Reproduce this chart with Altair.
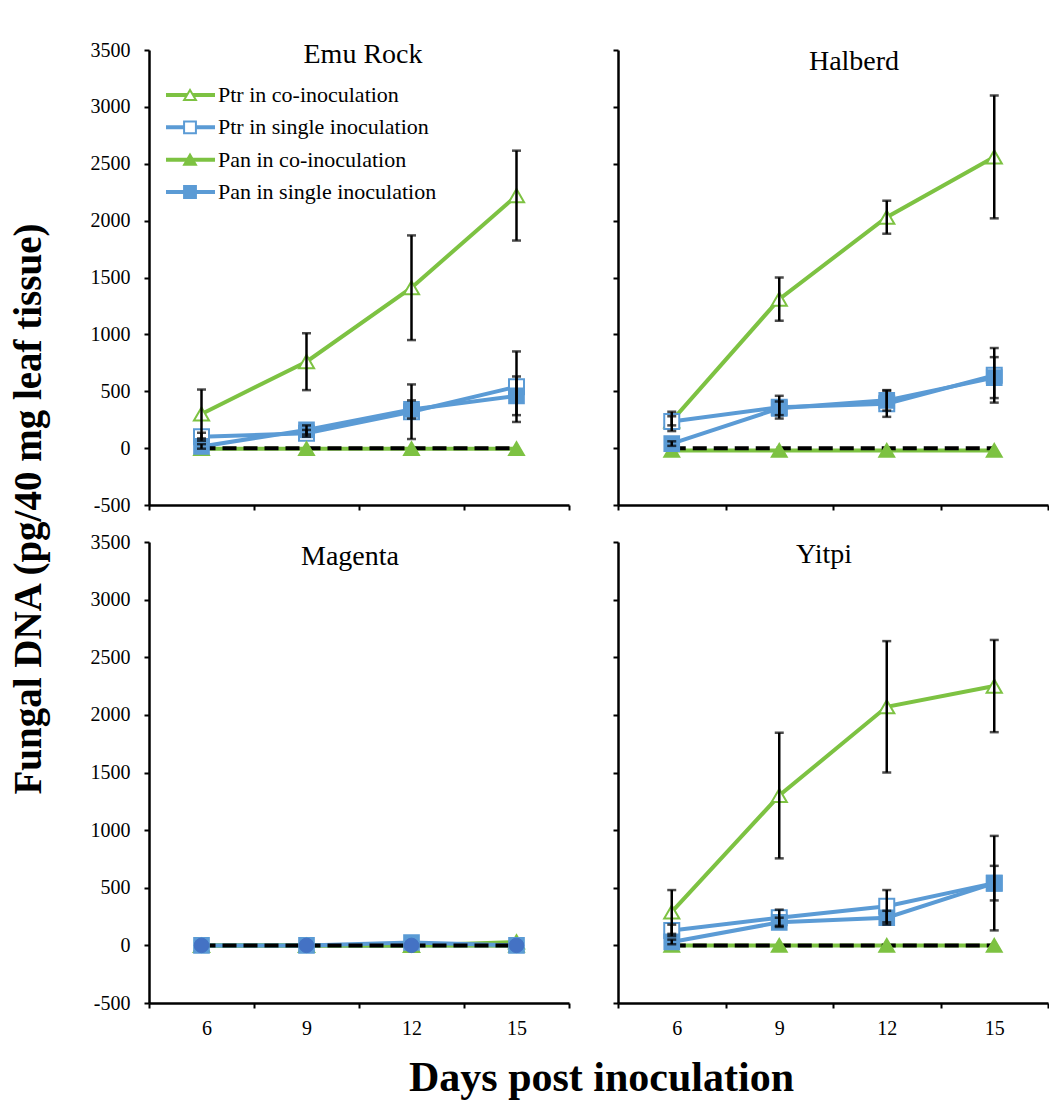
import altair as alt
import pandas as pd

# ---- data: fungal DNA (pg / 40 mg leaf tissue), mean and error per time point ----
days = [6, 9, 12, 15]
panels = ["Emu Rock", "Halberd", "Magenta", "Yitpi"]
series = [
    "Ptr in co-inoculation",
    "Ptr in single inoculation",
    "Pan in co-inoculation",
    "Pan in single inoculation",
]

emu_ptr_co = [300, 760, 1410, 2220]
emu_ptr_co_err = [215, 250, 460, 395]
emu_ptr_single = [100, 130, 320, 540]
emu_ptr_single_err = [35, 30, 240, 310]
emu_pan_co = [-5, -5, -5, -5]
emu_pan_co_err = [0, 0, 0, 0]
emu_pan_single = [15, 160, 340, 460]
emu_pan_single_err = [20, 40, 80, 170]

hal_ptr_co = [240, 1310, 2030, 2560]
hal_ptr_co_err = [40, 190, 145, 540]
hal_ptr_single = [235, 360, 390, 640]
hal_ptr_single_err = [85, 100, 115, 240]
hal_pan_co = [-20, -20, -20, -20]
hal_pan_co_err = [0, 0, 0, 0]
hal_pan_single = [40, 350, 420, 620]
hal_pan_single_err = [20, 60, 90, 180]

mag_ptr_co = [0, 0, 0, 30]
mag_ptr_co_err = [0, 0, 0, 0]
mag_ptr_single = [0, 0, 0, 0]
mag_ptr_single_err = [0, 0, 0, 0]
mag_pan_co = [0, 0, 0, 0]
mag_pan_co_err = [0, 0, 0, 0]
mag_pan_single = [0, 0, 25, 0]
mag_pan_single_err = [0, 0, 0, 0]

yit_ptr_co = [290, 1300, 2070, 2250]
yit_ptr_co_err = [190, 545, 570, 400]
yit_ptr_single = [130, 240, 340, 540]
yit_ptr_single_err = [50, 70, 140, 410]
yit_pan_co = [0, 0, 0, 0]
yit_pan_co_err = [0, 0, 0, 0]
yit_pan_single = [30, 200, 240, 540]
yit_pan_single_err = [20, 40, 60, 150]

# un-inoculated control (zero line)
control = [0, 0, 0, 0]

y_ticks = [-500, 0, 500, 1000, 1500, 2000, 2500, 3000, 3500]

table = {
    "Emu Rock": [(emu_ptr_co, emu_ptr_co_err), (emu_ptr_single, emu_ptr_single_err),
                 (emu_pan_co, emu_pan_co_err), (emu_pan_single, emu_pan_single_err)],
    "Halberd": [(hal_ptr_co, hal_ptr_co_err), (hal_ptr_single, hal_ptr_single_err),
                (hal_pan_co, hal_pan_co_err), (hal_pan_single, hal_pan_single_err)],
    "Magenta": [(mag_ptr_co, mag_ptr_co_err), (mag_ptr_single, mag_ptr_single_err),
                (mag_pan_co, mag_pan_co_err), (mag_pan_single, mag_pan_single_err)],
    "Yitpi": [(yit_ptr_co, yit_ptr_co_err), (yit_ptr_single, yit_ptr_single_err),
              (yit_pan_co, yit_pan_co_err), (yit_pan_single, yit_pan_single_err)],
}

rows = []
for p in panels:
    for s, (vals, errs) in zip(series, table[p]):
        for d, v, e in zip(days, vals, errs):
            # Magenta's Ptr single-inoculation series is plotted with round markers
            mk = "circle" if (p == "Magenta" and s == series[1]) else s
            rows.append({"panel": p, "series": s, "mk": mk, "day": d, "value": v, "err": e})
df = pd.DataFrame(rows)

ctrl = pd.DataFrame([{"panel": p, "day": d, "value": v} for p in panels for d, v in zip(days, control)])

GREEN = "#7DC242"
BLUE = "#5B9BD5"
DARKBLUE = "#4472C4"
FONT = "Liberation Serif"

line_color = alt.Scale(domain=series, range=[GREEN, BLUE, GREEN, BLUE])
mk_domain = series + ["circle"]
mk_shape = alt.Scale(domain=mk_domain, range=["triangle-up", "square", "triangle-up", "square", "circle"])
mk_fill = alt.Scale(domain=mk_domain, range=["white", "white", GREEN, BLUE, DARKBLUE])
mk_stroke = alt.Scale(domain=mk_domain, range=[GREEN, BLUE, GREEN, BLUE, DARKBLUE])
mk_size = alt.Scale(domain=mk_domain, range=[230, 210, 250, 260, 110])


def panel(name, width, height, y_labels, x_labels, title_dx, title_dy, legend=False):
    data = df[df.panel == name]
    x_axis = alt.Axis(
        values=[4.5, 7.5, 10.5, 13.5, 16.5],
        labels=x_labels,
        labelExpr="datum.value < 16 ? format(datum.value + 1.5, 'd') : ''",
        labelOffset=width / 8,
        labelFontSize=20,
        labelPadding=10,
        title=None,
    )
    y_axis = alt.Axis(values=y_ticks, labels=y_labels, labelExpr="'' + datum.value",
                      labelFontSize=20, labelPadding=14, title=None)
    x = alt.X("day:Q", scale=alt.Scale(domain=[4.5, 16.5], nice=False, zero=False), axis=x_axis)
    y = alt.Y("value:Q", scale=alt.Scale(domain=[-500, 3500], nice=False), axis=y_axis)

    base = alt.Chart(data)
    marker_enc = dict(
        x=x, y=y,
        shape=alt.Shape("mk:N", scale=mk_shape, legend=None),
        fill=alt.Fill("mk:N", scale=mk_fill, legend=None),
        stroke=alt.Stroke("mk:N", scale=mk_stroke, legend=None),
        size=alt.Size("mk:N", scale=mk_size, legend=None),
    )
    lines = base.mark_line(strokeWidth=4).encode(
        x=x, y=y,
        color=alt.Color("series:N", scale=line_color, legend=None),
        order="day:Q",
    )
    zero = alt.Chart(ctrl[ctrl.panel == name]).mark_line(
        strokeWidth=4, color="black", strokeDash=[14, 7]
    ).encode(x=x, y=y)
    points = base.transform_filter("datum.mk != 'circle'").mark_point(
        opacity=1, strokeWidth=2
    ).encode(**marker_enc)
    dots = base.transform_filter("datum.mk == 'circle'").mark_point(
        opacity=1, strokeWidth=1
    ).encode(**marker_enc)
    errs = base.transform_filter("datum.err > 0").transform_calculate(
        lo="datum.value - datum.err", hi="datum.value + datum.err"
    )
    err_rule = errs.mark_rule(color="black", strokeWidth=2.5).encode(x=x, y="lo:Q", y2="hi:Q")
    err_lo = errs.mark_tick(orient="horizontal", size=9, thickness=2.5, color="black").encode(x=x, y="lo:Q")
    err_hi = errs.mark_tick(orient="horizontal", size=9, thickness=2.5, color="black").encode(x=x, y="hi:Q")

    title = alt.Chart(pd.DataFrame({"name": [name]})).mark_text(
        font=FONT, fontSize=28, color="black", baseline="middle", align="center"
    ).encode(text="name:N", x=alt.value(width / 2 + title_dx), y=alt.value(title_dy))

    main = alt.layer(lines, zero, points, dots, err_rule, err_lo, err_hi, title)

    if legend:
        leg = alt.Chart(pd.DataFrame({"series": series, "mk": series}))
        ly = alt.Y("series:N", scale=alt.Scale(type="point", domain=series, range=[45, 142], padding=0),
                   axis=None)
        leg_line = leg.mark_rule(strokeWidth=4).encode(
            x=alt.value(17), x2=alt.value(66), y=ly,
            color=alt.Color("series:N", scale=line_color, legend=None),
        )
        leg_pt = leg.mark_point(opacity=1, strokeWidth=2).encode(
            x=alt.value(41), y=ly,
            shape=alt.Shape("mk:N", scale=mk_shape, legend=None),
            fill=alt.Fill("mk:N", scale=mk_fill, legend=None),
            stroke=alt.Stroke("mk:N", scale=mk_stroke, legend=None),
            size=alt.value(140),
        )
        leg_txt = leg.mark_text(font=FONT, fontSize=22, align="left", baseline="middle", color="black").encode(
            x=alt.value(69), y=ly, text="series:N"
        )
        main = alt.layer(main, alt.layer(leg_line, leg_pt, leg_txt)).resolve_scale(y="independent")

    return main.properties(width=width, height=height)


emu = panel("Emu Rock", 420, 455, True, False, 4, 5, legend=True)
hal = panel("Halberd", 430, 455, False, False, 21, 12)
mag = panel("Magenta", 420, 461, True, True, -9, 15)
yit = panel("Yitpi", 430, 461, False, True, -9, 13)

grid = alt.concat(
    emu, hal, mag, yit,
    columns=2,
    spacing={"row": 37, "column": 49},
    bounds="flush",
    align="each",
).properties(
    title=alt.TitleParams(
        "Fungal DNA (pg/40 mg leaf tissue)", orient="left", anchor="middle",
        font=FONT, fontSize=39, fontWeight="bold", color="black", offset=41, dx=30,
    )
)

chart = alt.vconcat(grid).properties(
    title=alt.TitleParams(
        "Days post inoculation", orient="bottom", anchor="middle",
        font=FONT, fontSize=42, fontWeight="bold", color="black", offset=20, dx=72,
    ),
    padding={"left": 9, "top": 40, "right": 0, "bottom": 5},
).configure_view(stroke=None).configure_axis(
    grid=False,
    domainColor="black",
    domainWidth=2.5,
    tickColor="black",
    tickWidth=2,
    tickSize=5,
    labelFont=FONT,
    labelColor="black",
)

chart.save("out.html", embed_options={"renderer": "svg", "actions": False})
